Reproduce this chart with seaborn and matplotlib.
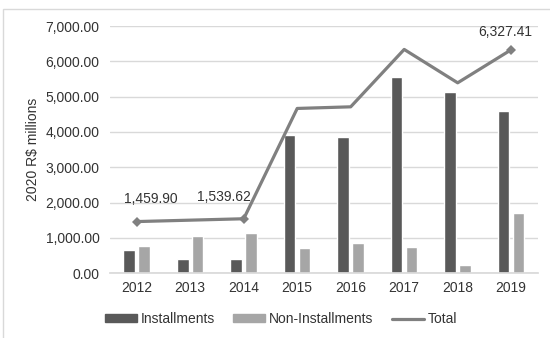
import matplotlib
matplotlib.use("Agg")
import matplotlib.pyplot as plt
import matplotlib.patches as mpatches
from matplotlib.lines import Line2D
import seaborn as sns
import pandas as pd

years = ["2012", "2013", "2014", "2015", "2016", "2017", "2018", "2019"]
installments = [650, 405, 390, 3920, 3870, 5560, 5130, 4580]
non_installments = [780, 1048, 1133, 700, 841, 737, 235, 1691]
total = [1459.90, 1500, 1539.62, 4665, 4711, 6337, 5391, 6327.41]
labelled_idx = [0, 2, 7]
label_texts = ["1,459.90", "1,539.62", "6,327.41"]

sns.set_theme(style="white")
plt.rcParams["font.family"] = ["Liberation Sans", "DejaVu Sans"]

c_inst = "#595959"
c_non = "#a6a6a6"
c_tot = "#808080"
c_txt = "#333333"
fs = 10

df = pd.DataFrame({
    "year": years * 2,
    "value": installments + non_installments,
    "series": ["Installments"] * len(years) + ["Non-Installments"] * len(years),
})

fig = plt.figure(figsize=(5.5, 3.38), dpi=100)
ax = fig.add_axes([0.2, 0.192, 0.778, 0.731])

sns.barplot(data=df, x="year", y="value", hue="series", order=years,
            palette=[c_inst, c_non], width=0.56, gap=0.23, ax=ax,
            legend=False, saturation=1)

sns.lineplot(x=list(range(len(years))), y=total, ax=ax, color=c_tot,
             linewidth=2.3, marker="D", markersize=5, markevery=labelled_idx,
             markeredgewidth=0, zorder=5)

offsets = [(10, 16), (-14, 16), (-4, 13)]
for i, t, off in zip(labelled_idx, label_texts, offsets):
    ax.annotate(t, (i, total[i]), xytext=off, textcoords="offset points",
                ha="center", va="center", fontsize=fs, color=c_txt)

ax.set_xlim(-0.5, 7.5)
ax.set_ylim(0, 7000)
ax.set_yticks(range(0, 7001, 1000))
ax.set_yticklabels([f"{v:,.2f}" for v in range(0, 7001, 1000)])
ax.yaxis.grid(True, color="#d9d9d9", linewidth=1)
ax.set_axisbelow(True)
for s in ["top", "right", "left"]:
    ax.spines[s].set_visible(False)
ax.spines["bottom"].set_color("#d9d9d9")
ax.tick_params(axis="both", length=0, labelsize=fs, colors=c_txt)
ax.tick_params(axis="y", pad=7.5)
ax.tick_params(axis="x", pad=6)
ax.set_xlabel("")
ax.set_ylabel("2020 R$ millions", fontsize=fs, color=c_txt, labelpad=4)

handles = [
    mpatches.Patch(color=c_inst, label="Installments"),
    mpatches.Patch(color=c_non, label="Non-Installments"),
    Line2D([0], [0], color=c_tot, linewidth=2.3, label="Total"),
]
fig.legend(handles=handles, loc="center", bbox_to_anchor=(0.511, 0.056),
           ncol=3, frameon=False, fontsize=fs, handlelength=2.3,
           handleheight=0.45, columnspacing=1.3, handletextpad=0.3,
           labelcolor=c_txt)

fig.patches.append(mpatches.Rectangle((3 / 550, -0.1), 2, (338 - 9) / 338 + 0.1,
                                      transform=fig.transFigure, fill=False,
                                      edgecolor="#d9d9d9", linewidth=1))

fig.savefig("out.png", dpi=100)
